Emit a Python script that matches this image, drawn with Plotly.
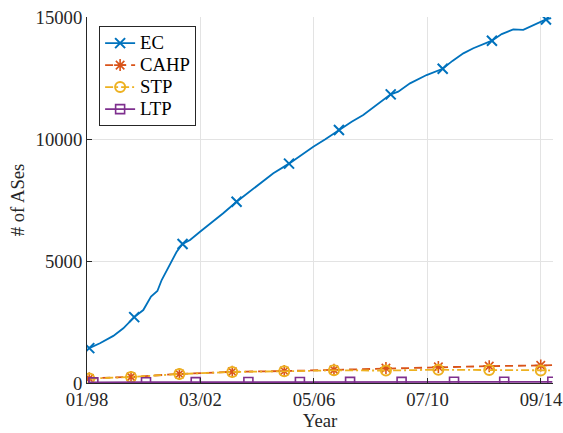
import plotly.graph_objects as go

# Time axis is measured in months since 01/98
tick_months = [0, 50, 100, 150, 200]
tick_labels = ["01/98", "03/02", "05/06", "07/10", "09/14"]
y_ticks = [0, 5000, 10000, 15000]
y_tick_labels = ["0", "5000", "10000", "15000"]

# EC series
ec_months = [1.0, 5.7, 11.6, 16, 20.8, 24.8, 28.2, 31, 32.9, 36.6, 39.5, 42.1, 45.4, 49.8,
             55, 60, 65.9, 70, 74.8, 78, 82.1, 89, 94, 99.7, 105, 111, 116.6, 121.7, 128.3,
             133.8, 137.1, 142.3, 149.6, 156.7, 161, 165.8, 170.2, 178.4, 182.7, 187.8,
             192.2, 196.6, 202.2, 204.5]
ec_values = [1430, 1630, 1930, 2240, 2700, 2990, 3540, 3770, 4220, 4900, 5380, 5700, 5860, 6200,
             6580, 6955, 7430, 7720, 8045, 8300, 8594, 8990, 9320, 9685, 9990, 10370, 10710, 10980,
             11460, 11830, 11940, 12280, 12620, 12880, 13200, 13510, 13720, 14030, 14300, 14490,
             14470, 14650, 14900, 14950]
ec_marker_idx = [0, 4, 11, 16, 21, 25, 29, 33, 37, 42]

# CAHP series
cahp_months = [1.0, 19.4, 40.7, 64.0, 86.9, 108.8, 131.7, 154.8, 177.2, 199.9, 205]
cahp_values = [190, 250, 370, 460, 490, 540, 610, 660, 690, 720, 730]
cahp_marker_idx = list(range(10))

# STP series
stp_months = [1.0, 19.4, 40.7, 64.0, 86.9, 108.8, 131.7, 154.8, 177.2, 199.9, 205]
stp_values = [180, 245, 365, 455, 480, 520, 510, 545, 530, 510, 520]
stp_marker_idx = list(range(10))

# LTP series
ltp_months = [0.5, 2.8, 26, 47.9, 71.1, 93.8, 115.9, 138.6, 161.7, 183.8, 205]
ltp_values = [20, 25, 30, 35, 40, 40, 45, 45, 50, 50, 50]
ltp_marker_idx = list(range(1, 11))

FONT = "Liberation Serif, Times New Roman, serif"
FS = 18.7
LEGEND_FS = 14.6  # controls legend row spacing; the label text itself is drawn at FS

series = [
    ("EC", ec_months, ec_values, ec_marker_idx, "#0072BD", "solid", "x-thin-open", 10, 2.0),
    ("CAHP", cahp_months, cahp_values, cahp_marker_idx, "#D95319", "8px,5px", "asterisk-open", 10, 1.6),
    ("STP", stp_months, stp_values, stp_marker_idx, "#EDB120", "8px,3px,2px,3px", "circle-open", 10, 2.0),
    ("LTP", ltp_months, ltp_values, ltp_marker_idx, "#7E2F8E", "solid", "square-open", 9, 1.6),
]

fig = go.Figure()
for name, xs, ys, idx, color, dash, symbol, msize, mlw in series:
    # full line
    fig.add_trace(go.Scatter(x=xs, y=ys, mode="lines", showlegend=False,
                             line=dict(color=color, width=1.8, dash=dash), hoverinfo="skip"))
    # sparse markers
    fig.add_trace(go.Scatter(x=[xs[i] for i in idx], y=[ys[i] for i in idx], mode="markers",
                             showlegend=False,
                             marker=dict(symbol=symbol, size=msize, color=color,
                                         line=dict(color=color, width=mlw))))
    # legend entry
    fig.add_trace(go.Scatter(x=[None], y=[None], mode="lines+markers",
                             name=f'<span style="font-size:{FS}px">{name}</span>',
                             line=dict(color=color, width=1.8, dash=dash),
                             marker=dict(symbol=symbol, size=msize, color=color,
                                         line=dict(color=color, width=mlw))))

axis_common = dict(
    showgrid=True, gridcolor="#e3e3e3", gridwidth=1,
    showline=True, linecolor="#262626", linewidth=1,
    ticks="inside", ticklen=5, tickcolor="#262626",
    tickfont=dict(family=FONT, size=FS, color="#262626"),
    zeroline=False, automargin=False,
)

fig.update_layout(
    width=563, height=433,
    margin=dict(l=87, r=10, t=17, b=50),
    paper_bgcolor="white", plot_bgcolor="white",
    font=dict(family=FONT, size=FS, color="#262626"),
    xaxis=dict(range=[0, 205.3], tickvals=tick_months, ticktext=tick_labels,
               ticklabelstandoff=0,
               title=dict(text="Year", font=dict(family=FONT, size=FS), standoff=2),
               **axis_common),
    yaxis=dict(range=[0, 15000], tickvals=y_ticks, ticktext=y_tick_labels,
               title=dict(text="# of ASes", font=dict(family=FONT, size=FS), standoff=5),
               **axis_common),
    legend=dict(x=0.026, y=0.975, xanchor="left", yanchor="top",
                bgcolor="white", bordercolor="#262626", borderwidth=1,
                font=dict(family=FONT, size=LEGEND_FS, color="#000000"),
                tracegroupgap=0, itemwidth=30),
)

fig.write_html("out.html")
